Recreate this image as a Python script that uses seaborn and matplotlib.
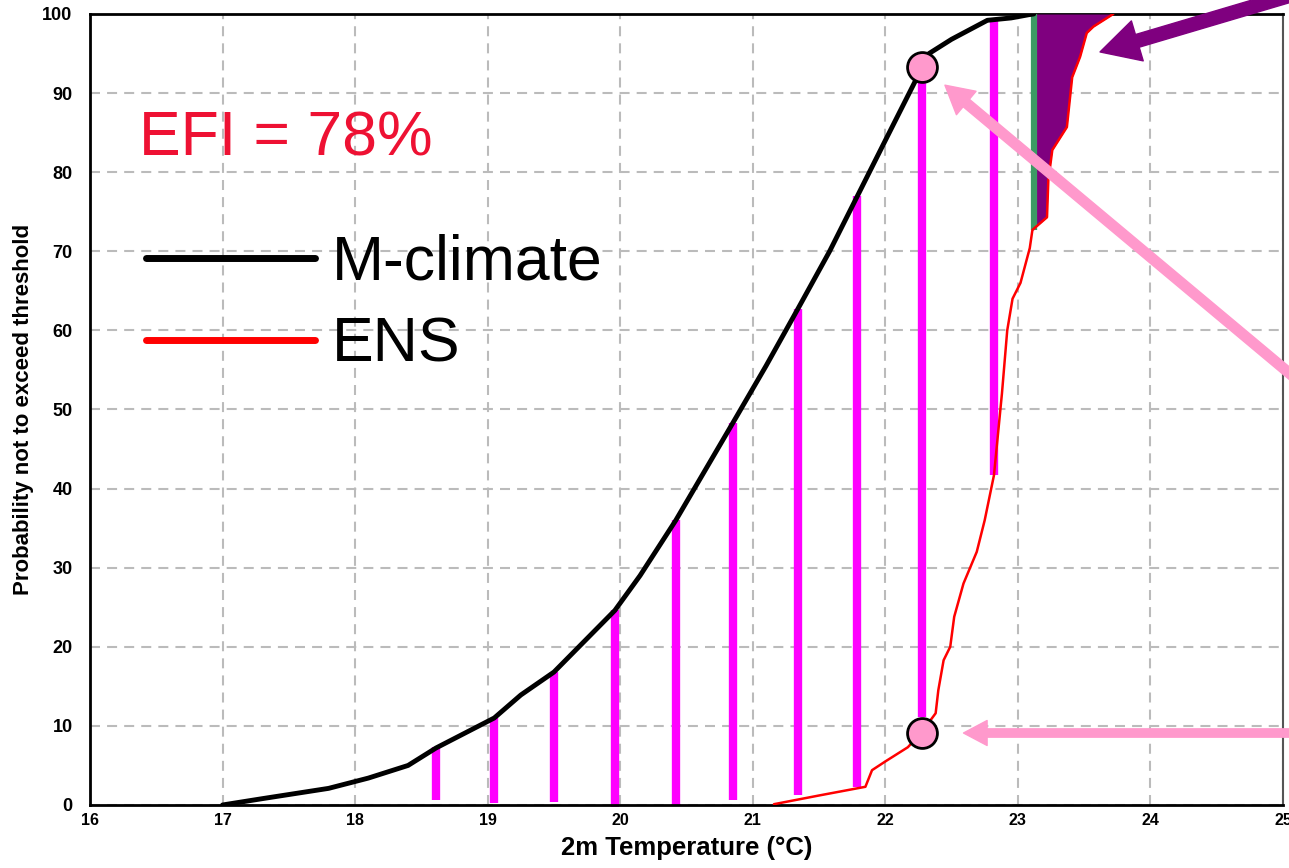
"""
EFI illustration: M-climate vs ENS cumulative distributions of 2m temperature.
"""

import numpy as np
import pandas as pd
import seaborn as sns
import matplotlib.pyplot as plt


# M-climate cumulative distribution (black)
mclim_temp = [17.0, 17.3, 17.8, 18.1, 18.4, 18.61, 19.05, 19.25, 19.5, 19.96,
              20.15, 20.42, 20.85, 21.1, 21.34, 21.58, 21.79, 22.0, 22.28,
              22.33, 22.5, 22.77, 22.95, 23.08, 23.12]
mclim_prob = [0.0, 0.8, 2.1, 3.4, 5.0, 7.2, 11.0, 13.9, 16.8, 24.6,
              29.0, 36.0, 48.3, 55.5, 62.7, 70.0, 77.0, 84.0, 93.3,
              95.0, 96.8, 99.2, 99.5, 99.9, 100.0]

# ENS cumulative distribution (red)
ens_temp = [21.16, 21.5, 21.85, 21.9, 22.0, 22.17, 22.27, 22.38, 22.4, 22.44,
            22.49, 22.52, 22.59, 22.69, 22.75, 22.82, 22.88, 22.92, 22.96,
            23.02, 23.09, 23.11, 23.22, 23.23, 23.26, 23.37, 23.41, 23.47,
            23.52, 23.57, 23.72]
ens_prob = [0.1, 1.2, 2.3, 4.4, 5.5, 7.3, 9.1, 11.6, 14.5, 18.3,
            20.0, 23.8, 28.0, 32.0, 36.0, 41.7, 52.0, 60.0, 64.0,
            66.0, 70.4, 72.7, 74.3, 79.0, 82.8, 85.7, 92.0, 94.6,
            97.6, 98.4, 100.0]

# magenta differences between the two curves
diff_temp = [18.61, 19.05, 19.50, 19.96, 20.42, 20.85, 21.34, 21.79, 22.28, 22.82]
diff_low = [0.6, 0.3, 0.4, -0.2, -0.1, 0.6, 1.3, 2.3, 11.1, 41.7]
diff_high = [7.3, 11.0, 16.8, 24.6, 36.0, 48.3, 62.7, 77.0, 91.4, 99.2]

# highlighted points at 22.3 degC
mark_temp = [22.28, 22.28]
mark_prob = [93.3, 9.1]

# ENS tail beyond the M-climate maximum
tail_edge = 23.12

x_ticks = list(range(16, 26))
y_ticks = list(range(0, 101, 10))


def main() -> None:
    sns.set_style("white")
    plt.rcParams["font.family"] = ["Liberation Sans", "DejaVu Sans"]
    plt.rcParams["text.color"] = "black"
    plt.rcParams["axes.labelcolor"] = "black"
    plt.rcParams["xtick.color"] = "black"
    plt.rcParams["ytick.color"] = "black"

    fig = plt.figure(figsize=(12.89, 8.68), dpi=100)
    ax = fig.add_axes([0.0698, 0.0726, 0.9255, 0.9113])

    mclim = pd.DataFrame({"temp": mclim_temp, "prob": mclim_prob})
    ens = pd.DataFrame({"temp": ens_temp, "prob": ens_prob})

    # purple tail + green edge
    tail = ens[ens["prob"] >= 72.7]
    ax.fill_betweenx(tail["prob"], tail_edge, tail["temp"],
                     color="#7f007f", lw=0, zorder=3)
    ax.vlines(tail_edge, tail["prob"].min(), 100, color="#3c9a64",
              lw=4.5, zorder=4)

    ax.vlines(diff_temp, diff_low, diff_high, color="#ff00ff", lw=6,
              zorder=2, clip_on=False)

    sns.lineplot(data=mclim, x="temp", y="prob", ax=ax, color="black",
                 lw=3.5, sort=False, estimator=None, zorder=5,
                 label="M-climate")
    sns.lineplot(data=ens, x="temp", y="prob", ax=ax, color="#ff0000",
                 lw=1.8, sort=False, estimator=None, zorder=5, label="ENS")

    ax.plot(mark_temp, mark_prob, "o", ms=21.5, mfc="#ff99cc",
            mec="black", mew=2, zorder=6)

    # arrows pointing at the features
    ax.annotate("", xy=(23.62, 95.2), xytext=(1.01, 1.025),
                textcoords="axes fraction",
                arrowprops=dict(width=9.5, headwidth=30, headlength=28,
                                color="#7f007f", shrink=0), zorder=7,
                annotation_clip=False)
    ax.annotate("", xy=(22.45, 91.0), xytext=(1.01, 0.54),
                textcoords="axes fraction",
                arrowprops=dict(width=7, headwidth=22, headlength=20,
                                color="#ff99cc", shrink=0), zorder=7,
                annotation_clip=False)
    ax.annotate("", xy=(22.59, 9.1), xytext=(1.01, 0.091),
                textcoords="axes fraction",
                arrowprops=dict(width=6, headwidth=18, headlength=17,
                                color="#ff99cc", shrink=0), zorder=7,
                annotation_clip=False)

    ax.text(0.041, 0.842, "EFI = 78%", transform=ax.transAxes,
            fontsize=45, color="#ee1133", va="center", ha="left")

    leg = ax.legend(loc="upper left", bbox_to_anchor=(0.047, 0.722),
                    frameon=False, fontsize=45, handlelength=2.7,
                    handletextpad=0.28, labelspacing=0.36, borderpad=0,
                    borderaxespad=0)
    for line in leg.get_lines():
        line.set_linewidth(5)
    for text in leg.get_texts():
        text.set_color("black")

    ax.set_xlim(16, 25)
    ax.set_ylim(0, 100)
    ax.set_xticks(x_ticks)
    ax.set_yticks(y_ticks)
    ax.grid(True, color="#bbbbbb", lw=1.5, linestyle=(0, (4.8, 3.4)))
    ax.tick_params(axis="y", direction="out", length=6.5, width=1.5,
                   pad=6, labelsize=13)
    ax.tick_params(axis="x", direction="inout", length=7, width=1.5,
                   pad=2, labelsize=11.5)
    for label in ax.get_xticklabels() + ax.get_yticklabels():
        label.set_fontweight("bold")
    for side in ["left", "bottom", "top"]:
        ax.spines[side].set_color("black")
        ax.spines[side].set_linewidth(2)
    ax.spines["right"].set_color("#555555")
    ax.spines["right"].set_linewidth(1.5)

    ax.set_xlabel("2m Temperature (°C)", fontsize=18.5, fontweight="bold",
                  labelpad=6)
    ax.set_ylabel("Probability not to exceed threshold", fontsize=16,
                  fontweight="bold", labelpad=6)

    fig.savefig("out.png", dpi=100)


if __name__ == "__main__":
    main()
